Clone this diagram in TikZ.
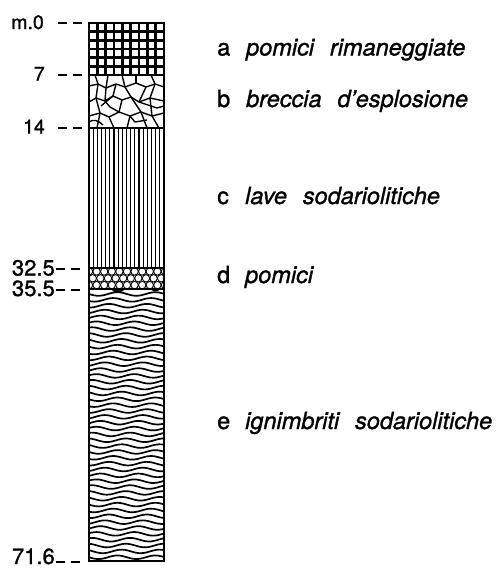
\documentclass[tikz,border=0pt]{standalone}
\usepackage{fontspec}
\setmainfont{TeX Gyre Heros}
\newfontfamily\heavysans{TeX Gyre Heros}[FakeBold=1.2]
\usetikzlibrary{calc}
\begin{document}
\begin{tikzpicture}[x=1pt,y=-1pt,
  rim/.style={line width=2.2pt},
  bound/.style={line width=2pt},
  tick/.style={line width=1.8pt, dash pattern=on 9pt off 6pt},
  depth/.style={anchor=base east, inner sep=0pt, font=\heavysans\fontsize{19.5}{21}\selectfont},
  depthbig/.style={depth, font=\heavysans\fontsize{22}{23}\selectfont},
  legletter/.style={anchor=base west, inner sep=0pt, font=\heavysans\fontsize{23.5}{26}\selectfont},
  legtext/.style={anchor=base west, inner sep=0pt, font=\heavysans\fontsize{23.5}{26}\selectfont\itshape},
  crack/.style={line width=1.4pt, line join=round},
]
\useasboundingbox (0,0) rectangle (499,568);

% layer boundaries (column from x=89 to x=164)
\coordinate (b0) at (89,23);
\coordinate (b7) at (89,75);
\coordinate (b14) at (89,128);
\coordinate (b325) at (89,268);
\coordinate (b355) at (89,289);
\coordinate (b716) at (89,561);

% a: reworked pumice -- square grid
\foreach \i in {0,...,9}
  \draw[line width=2.8pt] ({89+\i*75/9},23) -- ({89+\i*75/9},75);
\foreach \j in {0,...,6}
  \draw[line width=2.8pt] (89,{23+\j*52/6}) -- (164,{23+\j*52/6});

% b: explosion breccia -- crack network
\begin{scope}[shift={(89,75)}]
  \clip (0,0) rectangle (75,53);
  \draw[crack] (0,11) -- (9,9) -- (17,13) -- (27,9) -- (36,12) -- (47,8) -- (57,12) -- (66,9) -- (75,12);
  \draw[crack] (0,27) -- (7,23) -- (16,26) -- (24,21) -- (33,25) -- (42,22) -- (50,27) -- (61,23) -- (75,26);
  \draw[crack] (0,41) -- (11,38) -- (20,42) -- (30,37) -- (41,41) -- (52,37) -- (63,41) -- (75,38);
  \draw[crack] (6,0) -- (9,9) -- (7,23) -- (11,38) -- (8,53);
  \draw[crack] (19,0) -- (17,13) -- (16,26);
  \draw[crack] (27,9) -- (24,21);
  \draw[crack] (33,0) -- (36,12) -- (42,22) -- (52,37) -- (58,53);
  \draw[crack] (47,0) -- (47,8);
  \draw[crack] (57,12) -- (50,27);
  \draw[crack] (62,0) -- (66,9) -- (61,23) -- (63,41) -- (70,53);
  \draw[crack] (33,25) -- (30,37);
  \draw[crack] (16,26) -- (21,32) -- (30,37);
  \draw[crack] (20,42) -- (25,53);
  \draw[crack] (41,41) -- (38,53);
  \draw[crack] (0,47) .. controls (4,44) and (9,45) .. (14,50);
  \draw[crack] (24,21) -- (12,31);
  \draw[crack] (50,27) -- (68,33) -- (75,31);
  \draw[crack] (41,41) -- (46,47) -- (58,45);
\end{scope}

% c: sodalite lavas -- vertical ruling
\foreach \i in {1,...,17}
  \draw[line width=1.1pt] ({89+\i*75/18},128) -- ({89+\i*75/18},268);

% d: pumice -- packed circles
\begin{scope}
  \clip (89,268) rectangle (164,289);
  \foreach \r in {0,1,2}
    \foreach \i in {-1,...,10}
      \draw[line width=0.9pt] ({89+7.6*\i+3.8*mod(\r,2)},{271.5+6.8*\r}) circle[radius=3.7];
\end{scope}

% e: ignimbrites -- wavy lamination
\begin{scope}
  \clip (89,289) rectangle (164,561);
  \foreach \k in {0,...,45}
    \draw[line width=1.7pt] plot[domain=89:164, samples=30, smooth]
      (\x, {294+5.85*\k + 1.8*sin((\x-89)*9.5 + \k*40)});
  \fill (111,289.5) .. controls (115,293.5) and (120,293.5) .. (125,289.5) -- cycle;
  \fill (151,289.5) .. controls (154,292) and (157,292) .. (160,289.5) -- cycle;
\end{scope}

% boundaries and outline
\foreach \b in {b7,b14,b325,b355}
  \draw[bound] (\b) -- ++(75,0);
\draw[rim] (b0) rectangle ($(b716)+(75,0)$);

% depth labels and ticks
\node[depth] (l0) at (44,29) {m.0};
\node[depth] (l7) at (45,80.5) {7};
\node[depth] (l14) at (45,133.5) {14};
\node[depthbig] (l325) at (55,275.5) {32.5};
\node[depthbig] (l355) at (55,296) {35.5};
\node[depthbig] (l716) at (55,564) {71.6};
\foreach \b in {b0,b7,b14}
  \draw[tick] ([xshift=-31pt]\b) -- ([xshift=-6pt]\b);
\foreach \b in {b325,b355,b716}
  \draw[tick] ([xshift=-33pt,yshift=-1pt]\b) -- ([xshift=-7pt,yshift=-1pt]\b);

% legend
\node[legletter] (ka) at (217,55.5) {a};
\node[legtext] (na) at (246,55.5) {pomici\hspace{0.4em} rimaneggiate};
\node[legletter] (kb) at (217,107) {b};
\node[legtext] (nb) at (246,107) {breccia\hspace{0.4em} d’esplosione};
\node[legletter] (kc) at (217,204) {c};
\node[legtext] (nc) at (245,204) {lave\hspace{0.4em} sodariolitiche};
\node[legletter] (kd) at (217,283) {d};
\node[legtext] (nd) at (245,283) {pomici};
\node[legletter] (ke) at (217,429) {e};
\node[legtext] (ne) at (245,429) {ignimbriti\hspace{0.4em} sodariolitiche};
\end{tikzpicture}
\end{document}
